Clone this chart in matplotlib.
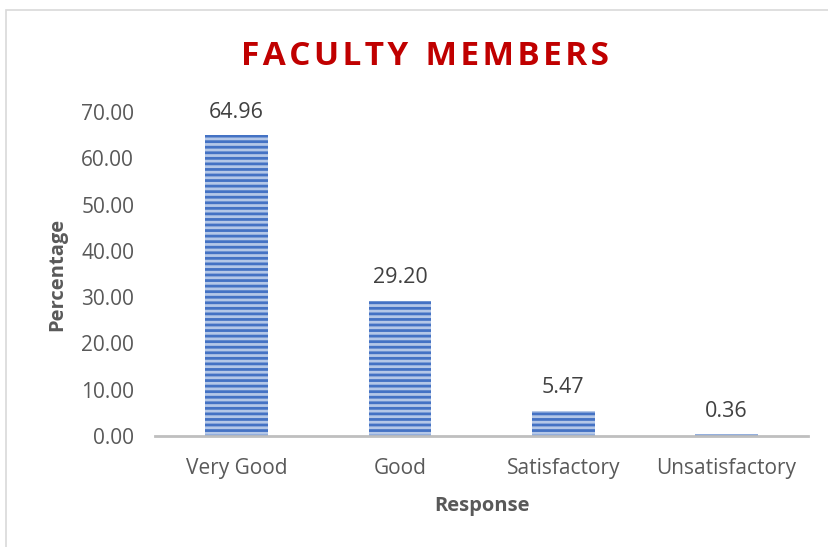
import matplotlib.pyplot as plt
import matplotlib.patches as mpatches
import numpy as np

categories = ['Very Good', 'Good', 'Satisfactory', 'Unsatisfactory']
percent = [64.96, 29.20, 5.47, 0.36]
yticks = [0, 10, 20, 30, 40, 50, 60, 70]

plt.rcParams['font.family'] = ['Open Sans', 'DejaVu Sans']
plt.rcParams['hatch.linewidth'] = 2.0

fig = plt.figure(figsize=(8.29, 5.47), dpi=100)
ax = fig.add_axes([0.187, 0.203, 0.788, 0.592])

x = np.arange(len(categories))
bars = ax.bar(x, percent, width=0.385, color='#b4c7e7', edgecolor='#4472c4',
              linewidth=0, hatch='---')

for xi, v in zip(x, percent):
    ax.annotate('%.2f' % v, (xi, v), xytext=(0, 9), textcoords='offset points',
                ha='center', va='bottom', fontsize=15.5, color='#404040')

ax.set_xlim(-0.5, len(categories) - 0.5)
ax.set_ylim(0, 70)
ax.set_yticks(yticks)
ax.set_yticklabels(['%.2f' % t for t in yticks])
ax.set_xticks(x)
ax.set_xticklabels(categories)
ax.tick_params(axis='both', length=0, labelsize=15, labelcolor='#595959')
ax.tick_params(axis='y', pad=15)
ax.tick_params(axis='x', pad=16)

for s in ['top', 'right', 'left']:
    ax.spines[s].set_visible(False)
ax.spines['bottom'].set_color('#bfbfbf')
ax.spines['bottom'].set_linewidth(2)

ax.set_xlabel('Response', fontsize=14.5, fontweight='bold', color='#595959', labelpad=12)
ax.set_ylabel('Percentage', fontsize=14.5, fontweight='bold', color='#595959', labelpad=10)

title = '\u200a'.join('FACULTY') + '  ' + '\u200a'.join('MEMBERS')
fig.text(0.513, 0.897, title, ha='center', va='center', fontsize=24,
         fontweight='bold', color='#c00000')

# chart border
fig.patches.append(mpatches.Rectangle((6 / 829, -0.1), 1.2, 1.1 - 10 / 547,
                                      transform=fig.transFigure, fill=False,
                                      edgecolor='#d9d9d9', linewidth=1.2))

fig.savefig('out.png', dpi=100)
